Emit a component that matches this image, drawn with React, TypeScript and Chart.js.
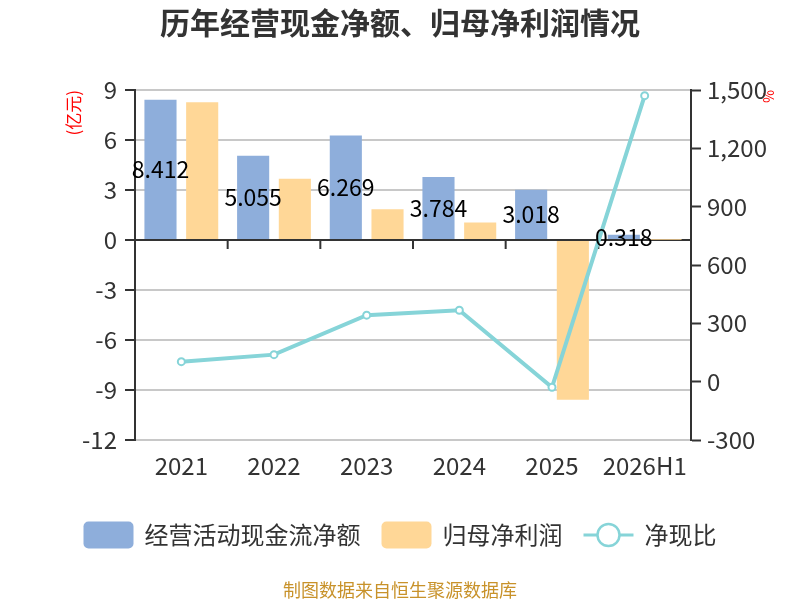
import { useEffect, useRef } from 'react';
import { Chart, registerables } from 'chart.js';

Chart.register(...registerables);

const years = ['2021', '2022', '2023', '2024', '2025', '2026H1'];
const cashFlow = [8.412, 5.055, 6.269, 3.784, 3.018, 0.318];
const netProfit = [8.26, 3.68, 1.85, 1.05, -9.58, 0.022];
const cashRatio = [103, 139, 342, 367, -29, 1471];

const leftMin = -12;
const leftMax = 9;
const leftStep = 3;
const rightMin = -300;
const rightMax = 1500;
const rightStep = 300;

const TITLE = '历年经营现金净额、归母净利润情况';
const SOURCE = '制图数据来自恒生聚源数据库';

const FONT = '"Noto Sans CJK SC", "Noto Sans", sans-serif';
const BLUE = '#8EAEDB';
const ORANGE = '#FFD797';
const TEAL = '#86D4D8';
const TEXT = '#333333';

// x axis line sits on the zero of the left axis, ticks between categories
const zeroAxis = {
    id: 'zeroAxis',
    beforeDatasetsDraw(chart: any) {
        const { ctx, chartArea, scales } = chart;
        const x = scales.x;
        const y0 = scales.y.getPixelForValue(0);
        const n = years.length;
        const half = (x.getPixelForValue(1) - x.getPixelForValue(0)) / 2;
        ctx.save();
        ctx.strokeStyle = TEXT;
        ctx.lineWidth = 2;
        ctx.beginPath();
        ctx.moveTo(chartArea.left, y0);
        ctx.lineTo(chartArea.right, y0);
        for (let i = 0; i <= n; i++) {
            const px = i < n ? x.getPixelForValue(i) - half : x.getPixelForValue(n - 1) + half;
            ctx.moveTo(px, y0);
            ctx.lineTo(px, y0 + 9);
        }
        ctx.stroke();
        ctx.restore();
    },
};

const barLabels = {
    id: 'barLabels',
    afterDatasetsDraw(chart: any) {
        const { ctx } = chart;
        const meta = chart.getDatasetMeta(0);
        ctx.save();
        ctx.font = `23px ${FONT}`;
        ctx.fillStyle = '#000';
        ctx.textAlign = 'center';
        ctx.textBaseline = 'middle';
        meta.data.forEach((bar: any, i: number) => {
            ctx.fillText(cashFlow[i].toFixed(3), bar.x, (bar.y + bar.base) / 2);
        });
        ctx.restore();
    },
};

// title, legend and source line, all centred on the whole canvas
const frameText = {
    id: 'frameText',
    afterDraw(chart: any) {
        const { ctx, width } = chart;
        ctx.save();
        ctx.font = `bold 30px ${FONT}`;
        ctx.fillStyle = TEXT;
        ctx.textAlign = 'center';
        ctx.textBaseline = 'middle';
        ctx.fillText(TITLE, width / 2, 23);

        const items = chart.data.datasets.map((ds: any) => ({ label: ds.label, type: ds.type, color: ds.borderColor }));
        const boxW = 50;
        const boxH = 27;
        const gap = 11;
        const spacing = 21;
        const cy = 535;
        ctx.font = `24px ${FONT}`;
        const widths = items.map((it: any) => boxW + gap + ctx.measureText(it.label).width);
        const total = widths.reduce((a: number, b: number) => a + b, 0) + spacing * (items.length - 1);
        let x = (width - total) / 2;
        items.forEach((it: any, i: number) => {
            if (it.type === 'line') {
                ctx.strokeStyle = TEAL;
                ctx.lineWidth = 3;
                ctx.beginPath();
                ctx.moveTo(x, cy);
                ctx.lineTo(x + boxW, cy);
                ctx.stroke();
                ctx.beginPath();
                ctx.arc(x + boxW / 2, cy, 11, 0, Math.PI * 2);
                ctx.fillStyle = '#fff';
                ctx.fill();
                ctx.lineWidth = 2.5;
                ctx.stroke();
            } else {
                ctx.fillStyle = it.color;
                ctx.beginPath();
                ctx.roundRect(x, cy - boxH / 2, boxW, boxH, 5);
                ctx.fill();
            }
            ctx.fillStyle = TEXT;
            ctx.textAlign = 'left';
            ctx.fillText(it.label, x + boxW + gap, cy);
            x += widths[i] + spacing;
        });

        ctx.font = `18px ${FONT}`;
        ctx.fillStyle = '#C8922A';
        ctx.textAlign = 'center';
        ctx.fillText(SOURCE, width / 2, 590);
        ctx.restore();
    },
};

const App: React.FC = () => {
    const canvasRef = useRef<HTMLCanvasElement | null>(null);
    const chartRef = useRef<Chart | null>(null);

    useEffect(() => {
        const ctx = canvasRef.current?.getContext('2d');
        if (!ctx) return;
        Chart.defaults.font.family = FONT;

        chartRef.current = new Chart(ctx, {
            type: 'bar',
            data: {
                labels: years,
                datasets: [
                    {
                        type: 'bar',
                        label: '经营活动现金流净额',
                        data: cashFlow,
                        backgroundColor: BLUE,
                        borderColor: BLUE,
                        yAxisID: 'y',
                        order: 2,
                        categoryPercentage: 0.9,
                        barPercentage: 0.77,
                    },
                    {
                        type: 'bar',
                        label: '归母净利润',
                        data: netProfit,
                        backgroundColor: ORANGE,
                        borderColor: ORANGE,
                        yAxisID: 'y',
                        order: 2,
                        categoryPercentage: 0.9,
                        barPercentage: 0.77,
                    },
                    {
                        type: 'line',
                        label: '净现比',
                        data: cashRatio,
                        borderColor: TEAL,
                        borderWidth: 4,
                        pointRadius: 3.5,
                        pointBorderWidth: 2,
                        pointBackgroundColor: '#fff',
                        pointBorderColor: TEAL,
                        yAxisID: 'y1',
                        order: 1,
                    },
                ],
            },
            options: {
                responsive: false,
                animation: false,
                layout: { padding: { left: 65, right: 25, top: 90, bottom: 110 } },
                plugins: {
                    legend: { display: false },
                    tooltip: { enabled: false },
                    title: { display: false },
                },
                scales: {
                    x: {
                        grid: { display: false, drawTicks: false },
                        border: { display: false },
                        ticks: { color: TEXT, font: { size: 24 }, padding: 11 },
                        afterFit: (s: any) => { s.height = 50; },
                    },
                    y: {
                        position: 'left',
                        min: leftMin,
                        max: leftMax,
                        ticks: { stepSize: leftStep, color: TEXT, font: { size: 24 }, padding: 8 },
                        grid: { color: '#C8C8C8', lineWidth: 2, tickLength: 10, tickColor: TEXT, tickWidth: 2 },
                        border: { color: TEXT, width: 2 },
                        title: {
                            display: true,
                            text: '(亿元)',
                            color: '#FF0000',
                            align: 'end',
                            font: { size: 17, lineHeight: 1 },
                            padding: 0,
                        },
                        afterFit: (s: any) => { s.width = 70; },
                    },
                    y1: {
                        position: 'right',
                        min: rightMin,
                        max: rightMax,
                        ticks: {
                            stepSize: rightStep,
                            color: TEXT,
                            font: { size: 24 },
                            padding: 6,
                            callback: (v: any) => Number(v).toLocaleString('en-US'),
                        },
                        grid: { drawOnChartArea: false, tickLength: 10, tickColor: TEXT, tickWidth: 2 },
                        border: { color: TEXT, width: 2 },
                        title: {
                            display: true,
                            text: '%',
                            color: '#FF0000',
                            align: 'end',
                            font: { size: 14, lineHeight: 1 },
                            padding: 0,
                        },
                        afterFit: (s: any) => { s.width = 84; },
                    },
                },
            },
            plugins: [zeroAxis, barLabels, frameText],
        });
        return () => chartRef.current?.destroy();
    }, []);

    return (
        <div style={{ position: 'absolute', left: 0, top: 0, width: 800, height: 600, background: '#fff' }}>
            <canvas ref={canvasRef} width={800} height={600} />
        </div>
    );
};

export default App;
